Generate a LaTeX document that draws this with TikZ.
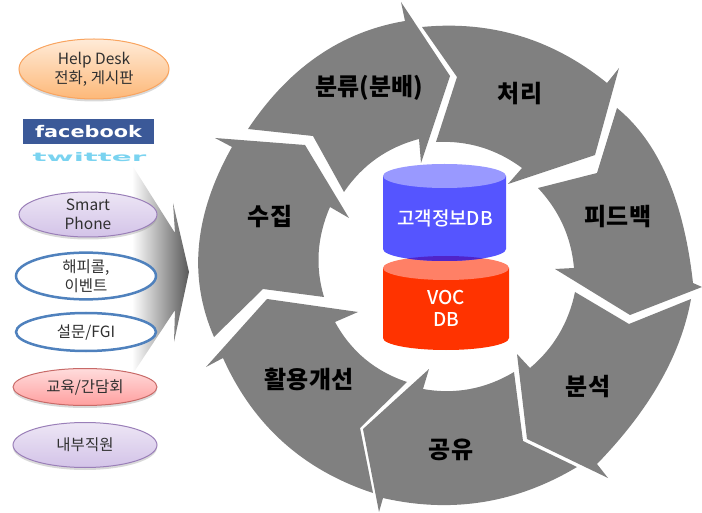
\documentclass[tikz,border=0pt]{standalone}
\usepackage{fontspec}
\setmainfont{Noto Sans CJK KR}
\newfontfamily\logofont{DejaVu Sans}
\newfontfamily\medfont[UprightFont=* Medium]{Noto Sans CJK KR}
\usetikzlibrary{shapes.geometric,shadows}
\definecolor{seggray}{HTML}{808080}
\definecolor{bluebody}{HTML}{5555FF}
\definecolor{bluetop}{HTML}{9999FF}
\definecolor{redbody}{HTML}{FF3300}
\definecolor{redtop}{HTML}{FF8066}
\definecolor{lensc}{HTML}{5024C8}
\definecolor{facebookblue}{HTML}{3B5998}
\definecolor{twitterc}{HTML}{7AD3F0}
\definecolor{oedge}{HTML}{F9A45F}
\definecolor{otop}{HTML}{FFEBD8}
\definecolor{obot}{HTML}{FDB878}
\definecolor{pedge}{HTML}{9A7FB8}
\definecolor{ptop}{HTML}{EDE6F5}
\definecolor{pbot}{HTML}{D3C3E8}
\definecolor{redge}{HTML}{C86A68}
\definecolor{rtop}{HTML}{FFDCDC}
\definecolor{rbot}{HTML}{FF9F9F}
\definecolor{bedge}{HTML}{4F81BD}
\definecolor{inktext}{HTML}{303030}
\newcommand{\fs}[2]{\fontsize{#1}{#2}\selectfont}
\tikzset{
  seg/.style={fill=seggray,draw=none},
  segl/.style={font=\fs{24}{26}\bfseries,text=black,inner sep=0pt},
  dbl/.style={font=\medfont\fs{19}{22},text=white,align=center,inner sep=0pt},
  oval/.style={ellipse,inner sep=0pt,align=center,font=\fs{15.5}{19},text=inktext},
  softshadow/.style={drop shadow={opacity=.3,shadow xshift=0pt,shadow yshift=-2.5pt}},
  orangeoval/.style={oval,draw=oedge,line width=1pt,top color=otop,bottom color=obot,softshadow},
  purpleoval/.style={oval,draw=pedge,line width=1pt,top color=ptop,bottom color=pbot,softshadow},
  redoval/.style={oval,draw=redge,line width=1pt,top color=rtop,bottom color=rbot,softshadow},
  blueoval/.style={oval,draw=bedge,line width=2.5pt,fill=white},
}
\begin{document}
\begin{tikzpicture}[x=1pt,y=-1pt]
\useasboundingbox (0,0) rectangle (702,513);
% big shaded arrow
\shade[left color=white,right color=black!65]
 (132,165) -- (175,233) -- (173,203) -- (189,272) -- (174,342) -- (175,310) -- (132,375) -- cycle;
% cycle segments
\fill[seg] (248,129) .. controls (289,67.7) and (341,31.7) .. (405,21)
  -- (401,2) -- (450,76) -- (421,163) -- (419,139)
  .. controls (387.3,147.3) and (362.3,165) .. (344,192)
  -- (313,136) -- cycle;
\fill[seg] (422,27) .. controls (491,20.3) and (552.7,39) .. (607,83)
  -- (619,68) -- (595,155) -- (508,184) -- (522,168)
  .. controls (496.4,149) and (467.7,140.4) .. (436,142)
  -- (457,77) -- cycle;
\fill[seg] (617,108) .. controls (658.3,141.7) and (683.7,200) .. (693,283)
  -- (702,287) -- (630,315) -- (555,269) -- (574,268)
  .. controls (571.3,237.3) and (559.3,210.7) .. (538,188)
  -- (597,173) -- cycle;
\fill[seg] (691,299) .. controls (681,354.7) and (649.7,409.7) .. (597,464)
  -- (608,478) -- (527,439) -- (517,354) -- (530,368)
  .. controls (553.7,348) and (568.7,322.7) .. (575,292)
  -- (629,324) -- cycle;
\fill[seg] (577,467) .. controls (516.3,503.3) and (451.7,513.7) .. (383,498)
  -- (379,512) -- (363,429) -- (429,369) -- (423,389)
  .. controls (455.3,394.7) and (485.7,389) .. (514,372)
  -- (523,441) -- cycle;
\fill[seg] (373,493) .. controls (303,470) and (253,425) .. (223,358)
  -- (206,367) -- (267,299) -- (358,312) -- (335,322)
  .. controls (351,351.3) and (375,371.3) .. (407,382)
  -- (360,428) -- cycle;
\fill[seg] (214,337) .. controls (188,277.7) and (194,214.3) .. (232,147)
  -- (215,138) -- (305,145) -- (349,218) -- (330,207)
  .. controls (317,237) and (315,267) .. (324,297)
  -- (263,289) -- cycle;
% segment labels
\node[segl] (fenlei) at (369,88) {분류(분배)};
\node[segl] (chuli) at (520,94) {처리};
\node[segl] (feedback) at (618,217) {피드백};
\node[segl] (fenxi) at (588,387) {분석};
\node[segl] (gongyu) at (451,450) {공유};
\node[segl] (huoyong) at (309,379) {활용개선};
\node[segl] (shouji) at (270,217) {수집};
% red cylinder
\fill[redbody] (383,268) -- (383,338) arc[start angle=180,end angle=360,x radius=63,y radius=-12] -- (509,268) -- cycle;
\fill[redtop] (446,268) ellipse[x radius=63,y radius=12];
% blue cylinder
\fill[bluebody] (383,176) -- (383,249) arc[start angle=180,end angle=360,x radius=61.5,y radius=-12] -- (506,176) -- cycle;
\fill[bluetop] (444.5,176) ellipse[x radius=61.5,y radius=12];
\begin{scope}
  \clip (444.5,249) ellipse[x radius=61.5,y radius=12];
  \fill[lensc] (446,268) ellipse[x radius=63,y radius=12];
\end{scope}
\node[dbl] (custdb) at (445,218) {고객정보DB};
\node[dbl] (vocdb) at (446,308) {VOC\\DB};
% left items
\node[orangeoval,minimum width=150pt,minimum height=60pt] (help) at (94,69) {Help Desk\\전화, 게시판};
\node[fill=facebookblue,minimum width=131pt,minimum height=25pt,inner sep=0pt,text=white,font=\logofont\bfseries\fs{16}{18}] (fb) at (88.5,131.5) {\scalebox{1.3}[1]{facebook}};
\node[inner sep=0pt,text=twitterc,font=\logofont\bfseries\fs{14}{16}] (tw) at (89.5,157) {\scalebox{2.1}[.85]{twitter}};
\node[purpleoval,minimum width=138pt,minimum height=45pt] (smart) at (88,214.5) {Smart\\Phone};
\node[blueoval,minimum width=140pt,minimum height=45pt] (happy) at (86,276) {해피콜,\\이벤트};
\node[blueoval,minimum width=140pt,minimum height=38pt] (survey) at (86,332) {설문/FGI};
\node[redoval,minimum width=144pt,minimum height=37pt] (edu) at (85,387) {교육/간담회};
\node[purpleoval,minimum width=144pt,minimum height=45pt] (staff) at (85,445) {내부직원};
\end{tikzpicture}
\end{document}
